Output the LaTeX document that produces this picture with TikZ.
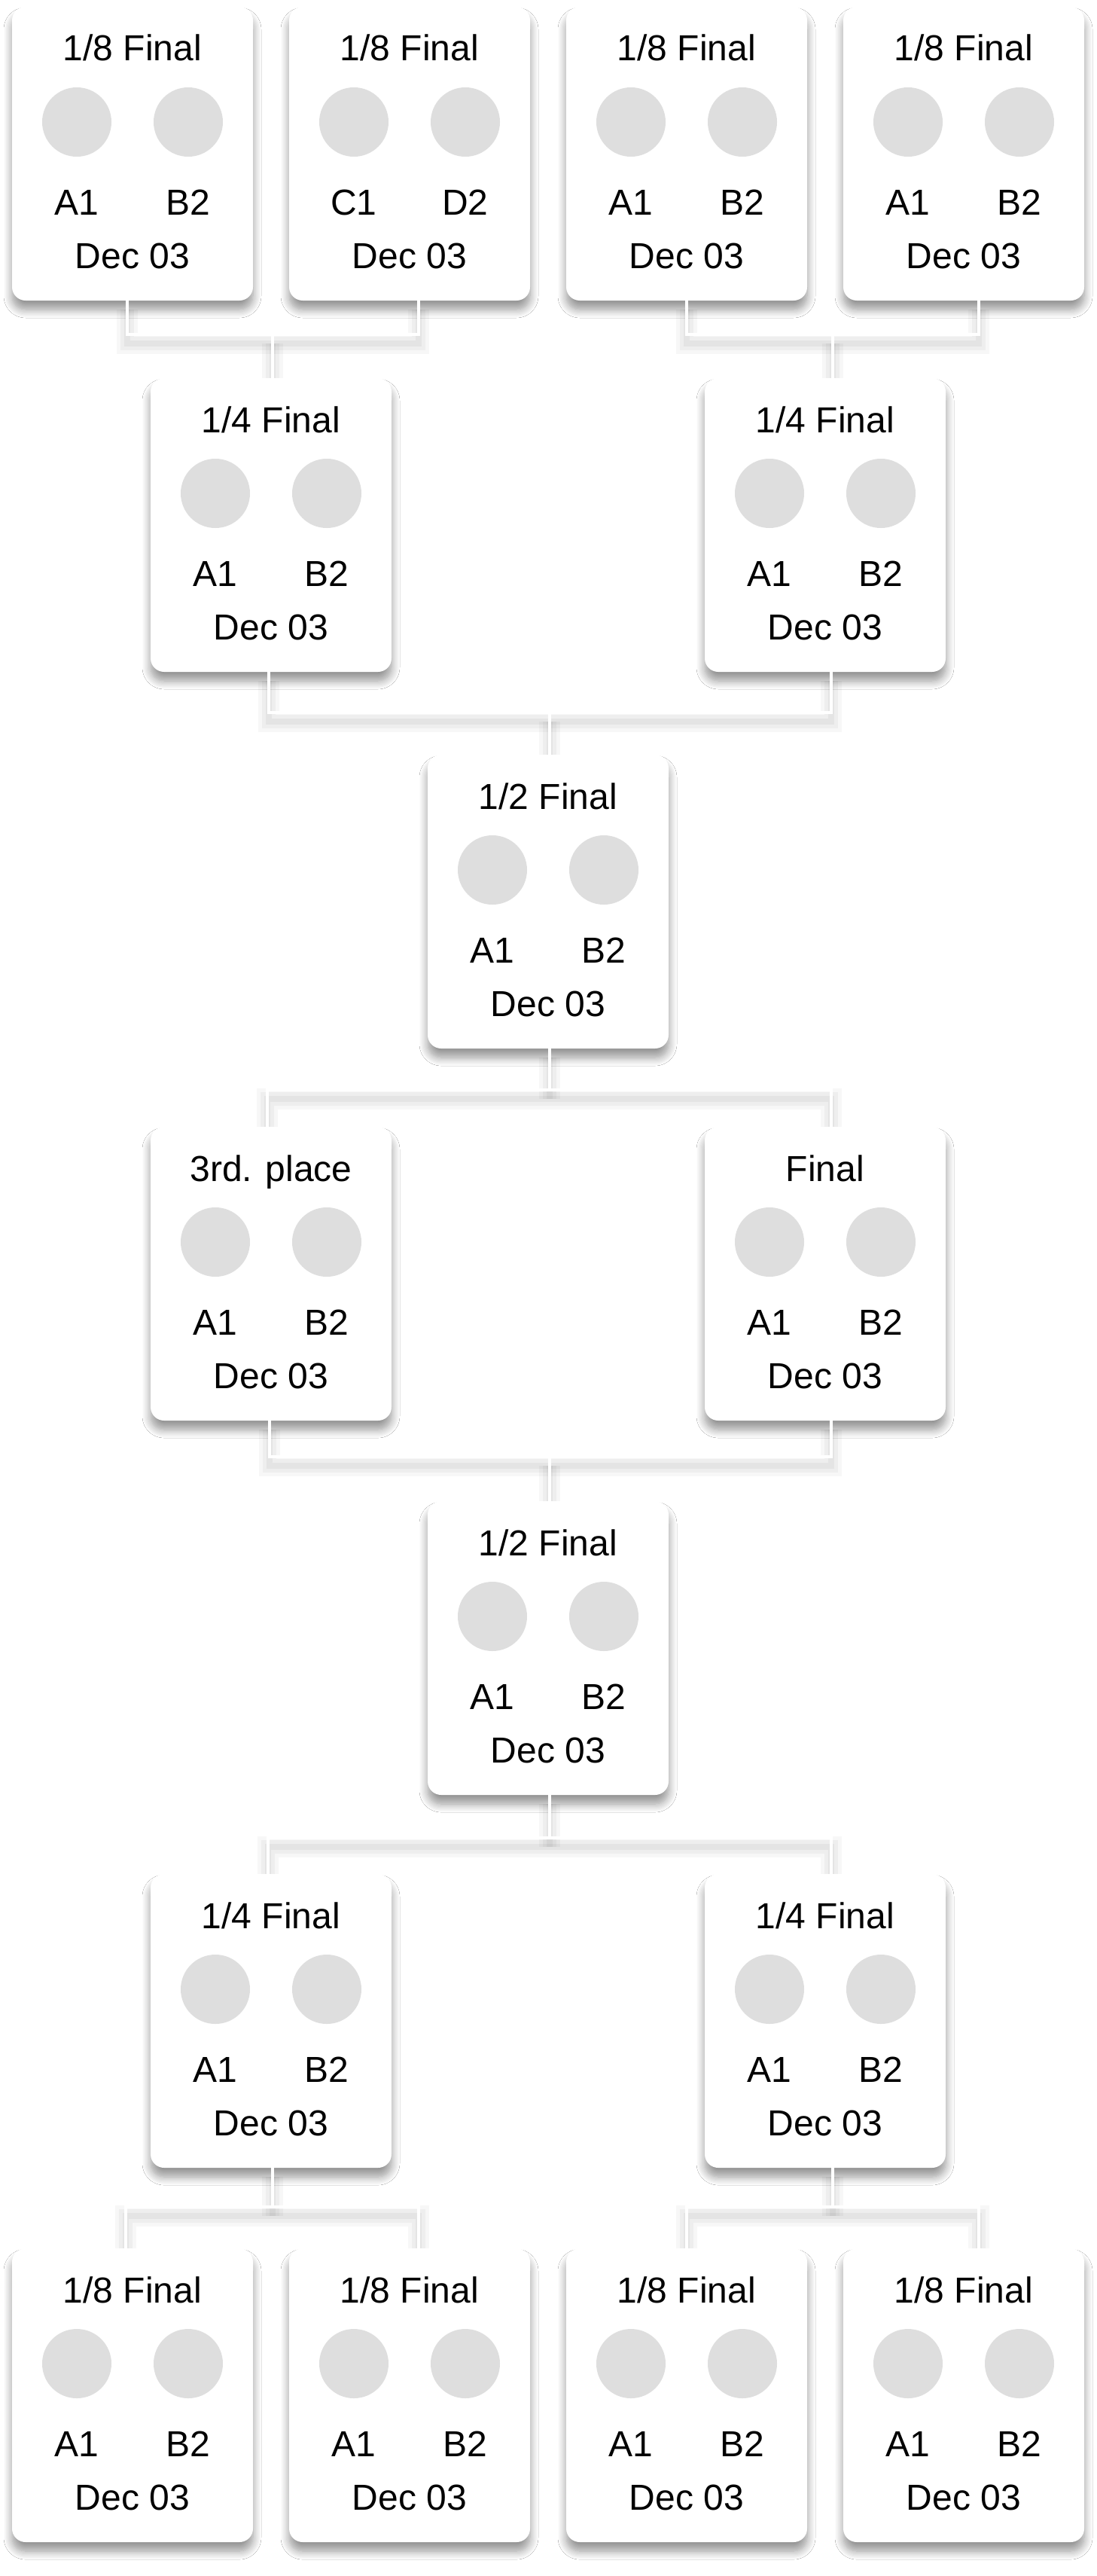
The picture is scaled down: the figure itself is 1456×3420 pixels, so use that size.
\documentclass[tikz,border=0pt]{standalone}
\usepackage{fontspec}
\setmainfont{Liberation Sans}
\usetikzlibrary{shadows.blur}
\pgfdeclarelayer{shade}
\pgfdeclarelayer{wiring}
\pgfsetlayers{shade,wiring,main}
\definecolor{ballgray}{HTML}{DEDEDE}
\tikzset{
  card/.style      = {rectangle, rounded corners=18pt, fill=white, inner sep=0pt,
                      outer sep=0pt, minimum width=320pt, minimum height=390pt},
  cardshade/.style = {rounded corners=18pt,
                      blur shadow={shadow xshift=0pt, shadow yshift=-12pt,
                                   shadow blur radius=11pt, shadow opacity=42,
                                   shadow blur steps=10}},
  ball/.style      = {circle, fill=ballgray, minimum size=92pt, inner sep=0pt},
  head/.style      = {font=\fontsize{48}{57}\selectfont, anchor=base, inner sep=0pt},
  wire/.style      = {draw=white, line width=4pt,
                      preaction={draw=black, draw opacity=0.03, line width=28pt,
                                 transform canvas={yshift=-12pt}},
                      preaction={draw=black, draw opacity=0.035, line width=18pt,
                                 transform canvas={yshift=-12pt}},
                      preaction={draw=black, draw opacity=0.04, line width=8pt,
                                 transform canvas={yshift=-12pt}}},
}
% one match card: name, centre x, top y, round, left team, right team
\newcommand{\match}[6]{%
  \node[card] (#1) at (#2, #3+195) {};
  \begin{pgfonlayer}{shade}
    \path[cardshade] (#1.north west) rectangle (#1.south east);
  \end{pgfonlayer}
  \node[head] (#1-t) at (#2,    #3+72)  {#4};
  \node[ball] (#1-a) at (#2-74, #3+153) {};
  \node[ball] (#1-b) at (#2+74, #3+153) {};
  \node[head] (#1-p) at (#2-74, #3+276) {#5};
  \node[head] (#1-q) at (#2+74, #3+276) {#6};
  \node[head] (#1-d) at (#2,    #3+347) {Dec 03};
}

\begin{document}
\begin{tikzpicture}[x=1pt, y=-1pt]

  \useasboundingbox (0,0) rectangle (1456,3420);
  \begin{pgfonlayer}{shade}
    \fill[white] (0,0) rectangle (1456,3420);
  \end{pgfonlayer}

  % ===== cards ==========================================================
  \match{et1}{176}{9}{1/8 Final}{A1}{B2}
  \match{et2}{544}{9}{1/8 Final}{C1}{D2}
  \match{et3}{912}{9}{1/8 Final}{A1}{B2}
  \match{et4}{1280}{9}{1/8 Final}{A1}{B2}

  \match{qt1}{360}{502}{1/4 Final}{A1}{B2}
  \match{qt2}{1096}{502}{1/4 Final}{A1}{B2}

  \match{sf1}{728}{1002}{1/2 Final}{A1}{B2}

  \match{third}{360}{1496}{3rd. place}{A1}{B2}
  \match{final}{1096}{1496}{Final}{A1}{B2}

  \match{sf2}{728}{1993}{1/2 Final}{A1}{B2}

  \match{qb1}{360}{2488}{1/4 Final}{A1}{B2}
  \match{qb2}{1096}{2488}{1/4 Final}{A1}{B2}

  \match{eb1}{176}{2985}{1/8 Final}{A1}{B2}
  \match{eb2}{544}{2985}{1/8 Final}{A1}{B2}
  \match{eb3}{912}{2985}{1/8 Final}{A1}{B2}
  \match{eb4}{1280}{2985}{1/8 Final}{A1}{B2}

  % ===== junctions ======================================================
  \coordinate (j1) at (362, 444);
  \coordinate (j2) at (1106, 444);
  \coordinate (j3) at (730, 946);
  \coordinate (j4) at (730, 1447);
  \coordinate (j5) at (730, 1934);
  \coordinate (j6) at (730, 2440);
  \coordinate (j7) at (362, 2930);
  \coordinate (j8) at (1106, 2930);

  \begin{pgfonlayer}{wiring}
  % ===== 1/8 -> 1/4 =====================================================
  \draw[wire] ([xshift=-7pt]et1.south) |- (j1) -| ([xshift=12pt]et2.south);
  \draw[wire] (j1) -- (qt1.north -| j1);
  \draw[wire] (et3.south) |- (j2) -| ([xshift=20pt]et4.south);
  \draw[wire] (j2) -- (qt2.north -| j2);

  % ===== 1/4 -> 1/2 =====================================================
  \draw[wire] ([xshift=-3pt]qt1.south) |- (j3) -| ([xshift=8pt]qt2.south);
  \draw[wire] (j3) -- (sf1.north -| j3);

  % ===== 1/2 -> 3rd. place and Final ====================================
  \draw[wire] (sf1.south -| j4) -- (j4);
  \draw[wire] ([xshift=-5pt]third.north) |- (j4) -| ([xshift=8pt]final.north);

  % ===== 3rd. place and Final -> 1/2 ====================================
  \draw[wire] ([xshift=-2pt]third.south) |- (j5) -| ([xshift=8pt]final.south);
  \draw[wire] (j5) -- (sf2.north -| j5);

  % ===== 1/2 -> 1/4 =====================================================
  \draw[wire] (sf2.south -| j6) -- (j6);
  \draw[wire] ([xshift=-4pt]qb1.north) |- (j6) -| ([xshift=8pt]qb2.north);

  % ===== 1/4 -> 1/8 =====================================================
  \draw[wire] (qb1.south -| j7) -- (j7);
  \draw[wire] ([xshift=-9pt]eb1.north) |- (j7) -| ([xshift=12pt]eb2.north);
  \draw[wire] (qb2.south -| j8) -- (j8);
  \draw[wire] (eb3.north) |- (j8) -| ([xshift=20pt]eb4.north);
  \end{pgfonlayer}

\end{tikzpicture}
\end{document}
